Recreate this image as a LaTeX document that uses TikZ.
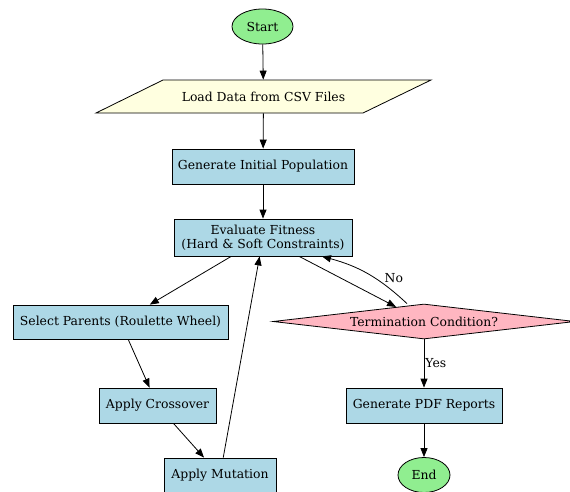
\documentclass[tikz,border=0pt]{standalone}
\usepackage{fontspec}
\setmainfont{DejaVu Serif}
\usetikzlibrary{shapes.geometric,arrows.meta}
\definecolor{startgreen}{HTML}{90EE90}
\definecolor{loadyellow}{HTML}{FFFFE0}
\definecolor{procblue}{HTML}{ADD8E6}
\definecolor{condpink}{HTML}{FFB6C1}
\begin{document}
\begin{tikzpicture}[x=1pt,y=-1pt,
  font=\fontsize{12.4}{14.5}\selectfont,
  line width=.8pt,
  proc/.style={draw,fill=procblue,minimum width=#1,minimum height=35,inner sep=0,align=center},
  term/.style={ellipse,draw,fill=startgreen,minimum width=#1,minimum height=35,inner sep=0},
  arr/.style={-{Triangle[length=9pt,width=7pt]}}]
\useasboundingbox (0,0) rectangle (570,491);
\node[term=61] (start) at (262.5,26.5) {Start};
\draw[fill=loadyellow] (163,80) -- (431,80) -- (363,113) -- (96,113) -- cycle;
\node[minimum height=33,inner sep=0] (load) at (263.5,96.5) {Load Data from CSV Files};
\node[proc=182] (init) at (263,166.5) {Generate Initial Population};
\node[proc=178,minimum height=37] (eval) at (263,237.5) {Evaluate Fitness\\(Hard \& Soft Constraints)};
\node[proc=215,minimum height=34] (select) at (120.5,322) {Select Parents (Roulette Wheel)};
\node[proc=117] (cross) at (157.5,405.5) {Apply Crossover};
\node[proc=112] (mutate) at (220,475.5) {Apply Mutation};
\node[diamond,aspect=8.6,draw,fill=condpink,minimum width=302,minimum height=35,inner sep=0] (cond) at (424,321.5) {Termination Condition?};
\node[proc=156] (report) at (424,405.5) {Generate PDF Reports};
\node[term=52] (end) at (424,475) {End};
\draw[arr] (start) -- (load);
\draw[arr] (load) -- (init);
\draw[arr] (init) -- (eval);
\draw[arr] (eval) -- (select);
\draw[arr] (select) -- (cross);
\draw[arr] (cross) -- (mutate);
\draw[arr] (mutate) -- (eval);
\draw[arr] (eval) -- (cond);
\draw[arr] ([xshift=-17pt]cond.north) to[bend right=14] node[pos=.3,above right,inner sep=1] (no) {No} ([xshift=59pt]eval.south);
\draw[arr] (cond) -- node[right,inner sep=1] (yes) {Yes} (report);
\draw[arr] (report) -- (end);
\end{tikzpicture}
\end{document}
